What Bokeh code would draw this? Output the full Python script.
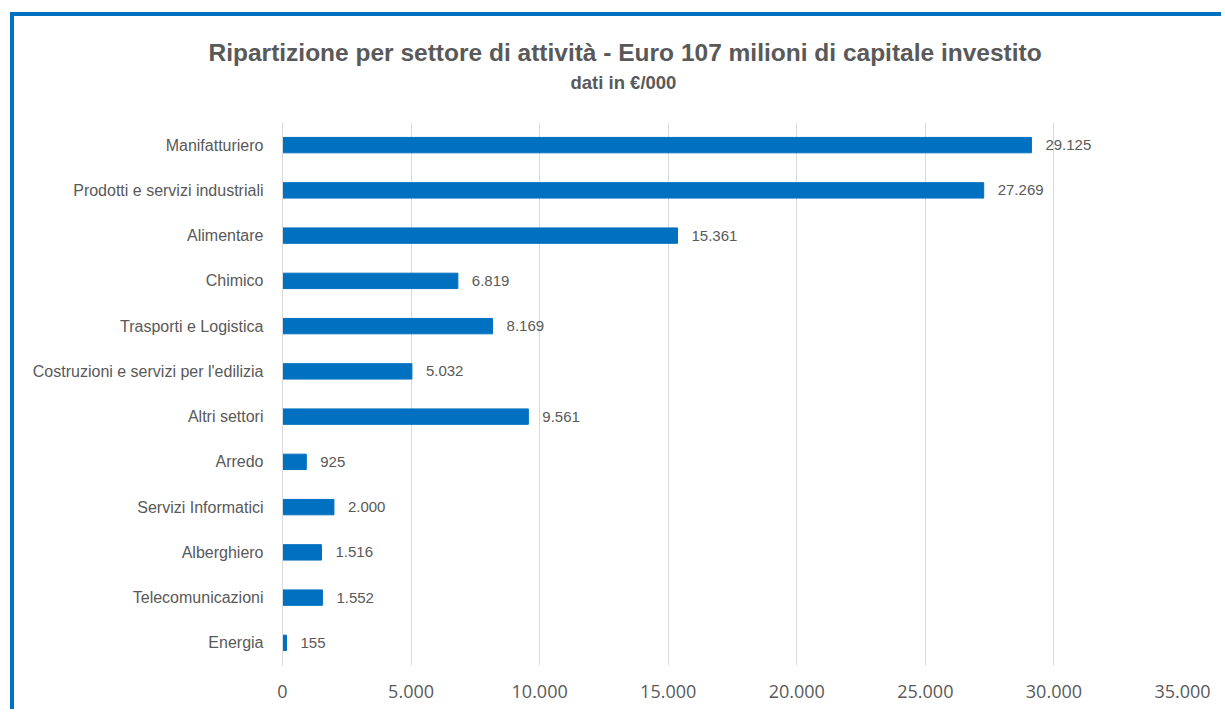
from bokeh.plotting import figure
from bokeh.models import FactorRange, Title, CustomJSTickFormatter, ColumnDataSource, LabelSet, SingleIntervalTicker
from bokeh.core.properties import value
from bokeh.embed import file_html
from bokeh.resources import INLINE

categories = ["Manifatturiero", "Prodotti e servizi industriali", "Alimentare", "Chimico",
              "Trasporti e Logistica", "Costruzioni e servizi per l'edilizia", "Altri settori",
              "Arredo", "Servizi Informatici", "Alberghiero", "Telecomunicazioni", "Energia"]
values = [29125, 27269, 15361, 6819, 8169, 5032, 9561, 925, 2000, 1516, 1552, 155]
title_text = "Ripartizione per settore di attività - Euro 107 milioni di capitale investito"
subtitle_text = "dati in €/000"

value_labels = [f"{v:,}".replace(",", ".") for v in values]

BLUE = "#0070C0"
GRAY = "#595959"
FONT = "Liberation Sans"

src = ColumnDataSource(dict(cat=categories, val=values, lab=value_labels))

p = figure(width=1211, height=697, output_backend="svg", toolbar_location=None,
           y_range=FactorRange(factors=categories[::-1], range_padding=0),
           x_range=(0, 35000),
           min_border_left=268, min_border_right=43, min_border_top=106, min_border_bottom=48)
p.styles = {"margin-left": "10px", "margin-top": "12px",
            "border-left": f"4px solid {BLUE}", "border-top": f"4px solid {BLUE}"}
p.outline_line_color = None
p.background_fill_color = "white"
p.border_fill_color = "white"

p.hbar(y="cat", right="val", left=0, height=0.34, color=BLUE, source=src)

labels = LabelSet(x="val", y="cat", text="lab", source=src, x_offset=14, text_baseline="middle",
                  text_font=value(FONT), text_font_size="15px", text_color=GRAY)
p.add_layout(labels)

p.xgrid.grid_line_color = "#d9d9d9"
p.xgrid.ticker = SingleIntervalTicker(interval=5000)
p.ygrid.grid_line_color = None

p.xaxis.ticker = SingleIntervalTicker(interval=5000)
p.xaxis.formatter = CustomJSTickFormatter(code="""
return Math.round(tick).toString().replace(/\\B(?=(\\d{3})+(?!\\d))/g, '.');
""")
p.xaxis.axis_line_color = None
p.xaxis.major_tick_line_color = None
p.xaxis.minor_tick_line_color = None
p.xaxis.major_label_text_font = "Open Sans"
p.xaxis.major_label_text_font_size = "18px"
p.xaxis.major_label_text_color = GRAY
p.xaxis.major_label_standoff = 13

p.yaxis.axis_line_color = "#d9d9d9"
p.yaxis.major_tick_line_color = None
p.yaxis.minor_tick_line_color = None
p.yaxis.major_label_text_font = FONT
p.yaxis.major_label_text_font_size = "16px"
p.yaxis.major_label_text_color = GRAY
p.yaxis.major_label_standoff = 13

# spacer between subtitle and plot area
p.add_layout(Title(text=" ", text_font_size="1px", standoff=22), "above")
p.add_layout(Title(text=subtitle_text, align="left", offset=288, text_font=FONT,
                   text_font_size="18.5px", text_font_style="bold", text_color=GRAY,
                   standoff=9), "above")
p.add_layout(Title(text=title_text, align="left", offset=-74, text_font=FONT,
                   text_font_size="24.5px", text_font_style="bold", text_color=GRAY,
                   standoff=0), "above")

open("out.html", "w").write(file_html(p, INLINE))
